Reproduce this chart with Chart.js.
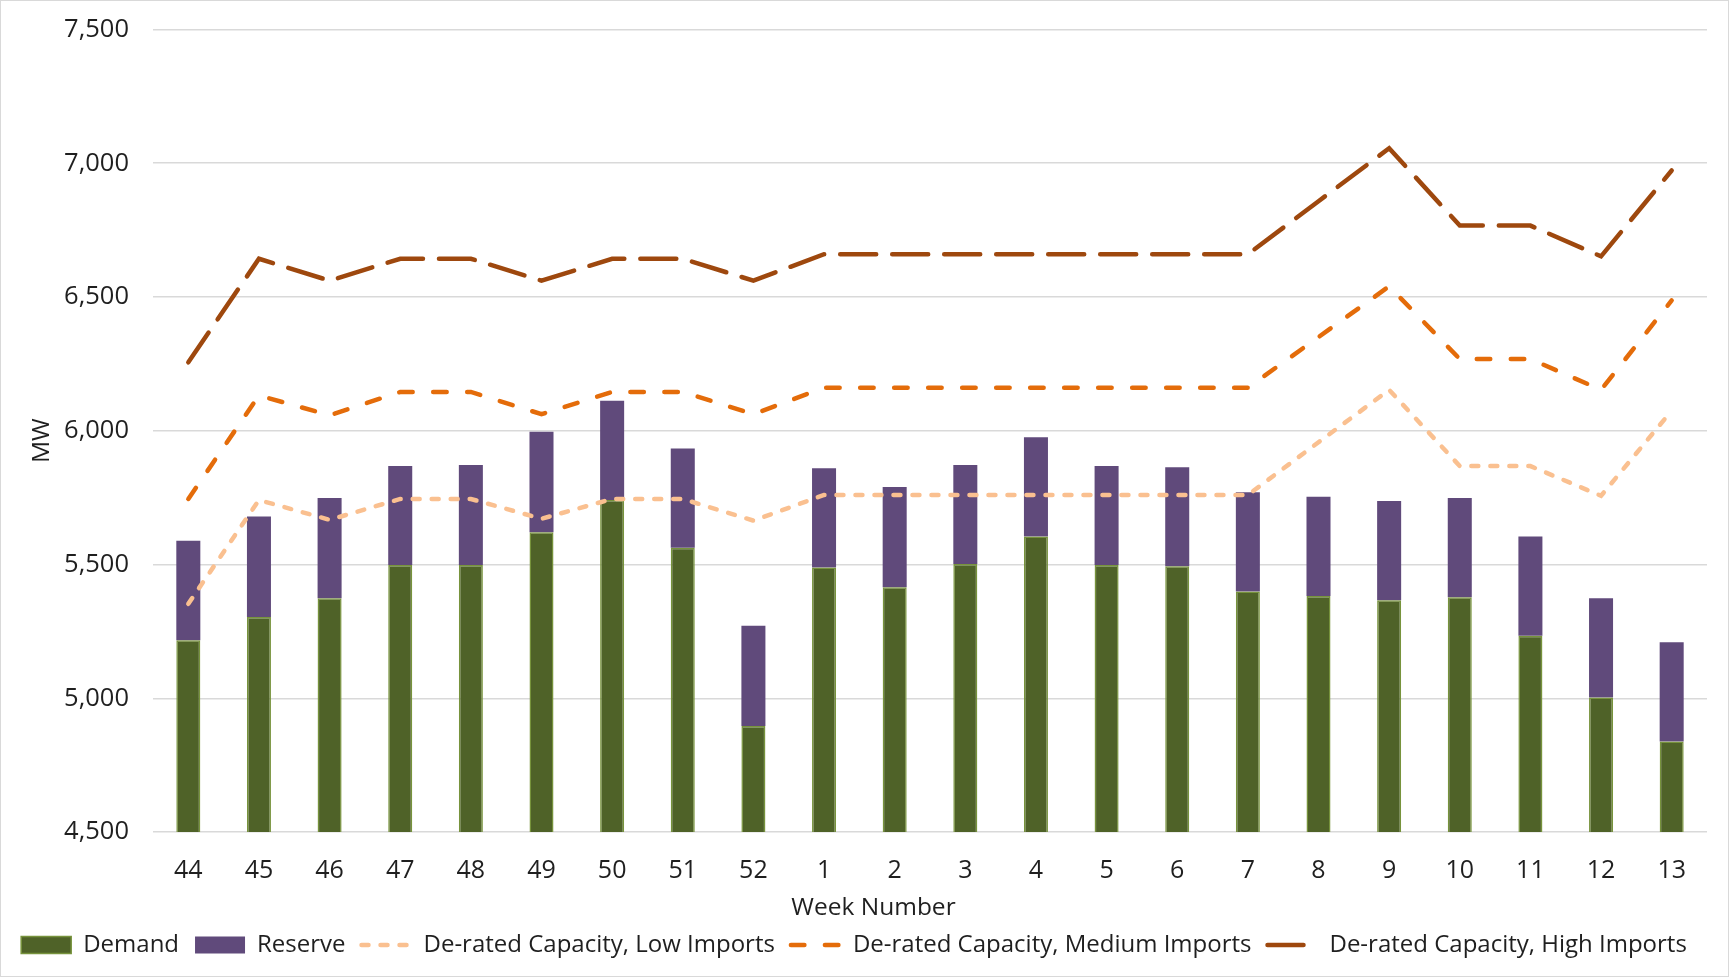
<!DOCTYPE html>
<html>
<head>
<meta charset="utf-8">
<script src="https://cdn.jsdelivr.net/npm/chart.js@4.4.1/dist/chart.umd.min.js"></script>
<style>
  html, body { margin: 0; padding: 0; background: #fff; }
  #wrap { width: 1729px; height: 977px; box-sizing: border-box; border: 1px solid #d9d9d9; }
</style>
</head>
<body>
<div id="wrap"><canvas id="capacityChart"></canvas></div>
<script>
const weeks = ['44', '45', '46', '47', '48', '49', '50', '51', '52', '1', '2', '3', '4', '5', '6', '7', '8', '9', '10', '11', '12', '13'];

const demand = [5217, 5304, 5374, 5498, 5498, 5621, 5741, 5563, 4896, 5489, 5415, 5502, 5605, 5498, 5493, 5399, 5382, 5366, 5378, 5234, 5003, 4838];
const reserve = [372, 375, 375, 370, 374, 375, 371, 371, 375, 371, 375, 370, 371, 370, 371, 371, 371, 371, 371, 371, 371, 371];

const lowImports = [5353, 5741, 5667, 5745, 5745, 5671, 5745, 5745, 5664, 5760, 5760, 5760, 5760, 5760, 5760, 5760, 5957, 6153, 5868, 5868, 5757, 6075];
const mediumImports = [5745, 6132, 6058, 6145, 6145, 6062, 6145, 6145, 6062, 6161, 6161, 6161, 6161, 6161, 6161, 6161, 6350, 6540, 6268, 6268, 6153, 6487];
const highImports = [6256, 6643, 6561, 6643, 6643, 6561, 6643, 6643, 6561, 6660, 6660, 6660, 6660, 6660, 6660, 6660, 6858, 7056, 6767, 6767, 6652, 6973];

const yTicks = [4500, 5000, 5500, 6000, 6500, 7000, 7500];

const textColor = '#1f1f1f';
Chart.defaults.font.family = '"Open Sans", sans-serif';
Chart.defaults.font.size = 24;
Chart.defaults.color = textColor;

// axis titles are placed like the Excel original, slightly off the plot centre
const axisTitles = {
  id: 'axisTitles',
  afterDraw(chart) {
    const c = chart.ctx;
    const area = chart.chartArea;
    c.save();
    c.font = '24.5px "Open Sans", sans-serif';
    c.fillStyle = textColor;
    c.textAlign = 'center';
    c.textBaseline = 'middle';
    c.fillText('Week Number', chart.width / 2 + 9, area.bottom + 76);
    c.translate(41, (area.top + area.bottom) / 2 + 10);
    c.rotate(-Math.PI / 2);
    c.fillText('MW', 0, 0);
    c.restore();
  }
};

const ctx = document.getElementById('capacityChart').getContext('2d');
new Chart(ctx, {
  data: {
    labels: weeks,
    datasets: [
      {
        type: 'bar', label: 'Demand', data: demand, stack: 'bars', order: 2,
        backgroundColor: '#4f6228', borderColor: '#77933c', borderWidth: 1.5, borderSkipped: false,
        categoryPercentage: 1, barPercentage: 0.34
      },
      {
        type: 'bar', label: 'Reserve', data: reserve, stack: 'bars', order: 2,
        backgroundColor: '#604a7b', borderWidth: 0,
        categoryPercentage: 1, barPercentage: 0.34
      },
      {
        type: 'line', label: 'De-rated Capacity, Low Imports', data: lowImports, stack: 'low', order: 1,
        borderColor: '#fac090', borderWidth: 4.5, borderDash: [7, 12], borderCapStyle: 'round',
        pointRadius: 0, tension: 0, fill: false
      },
      {
        type: 'line', label: 'De-rated Capacity, Medium Imports', data: mediumImports, stack: 'medium', order: 1,
        borderColor: '#e46c0a', borderWidth: 4.5, borderDash: [13.5, 20.5], borderCapStyle: 'round',
        pointRadius: 0, tension: 0, fill: false
      },
      {
        type: 'line', label: 'De-rated Capacity, High Imports', data: highImports, stack: 'high', order: 1,
        borderColor: '#9e480e', borderWidth: 4.5, borderDash: [36, 16], borderCapStyle: 'round',
        pointRadius: 0, tension: 0, fill: false
      }
    ]
  },
  options: {
    responsive: true,
    maintainAspectRatio: false,
    animation: false,
    devicePixelRatio: 1,
    layout: { padding: { left: 0, top: 28.5, right: 21, bottom: 9 } },
    plugins: {
      tooltip: { enabled: false },
      legend: {
        position: 'bottom',
        labels: {
          usePointStyle: true,
          pointStyleWidth: 50,
          boxHeight: 17,
          padding: 16,
          font: { size: 24 },
          sort: (a, b) => a.datasetIndex - b.datasetIndex,
          generateLabels(chart) {
            const items = Chart.defaults.plugins.legend.labels.generateLabels(chart);
            items.forEach(item => {
              const ds = chart.data.datasets[item.datasetIndex];
              if (ds.type === 'line') {
                item.pointStyle = 'line';
                item.strokeStyle = ds.borderColor;
                item.lineWidth = ds.borderWidth;
                item.lineDash = ds.borderDash;
                item.lineCap = ds.borderCapStyle;
              } else {
                item.pointStyle = 'rect';
              }
            });
            return items;
          }
        }
      }
    },
    scales: {
      x: {
        stacked: true,
        grid: { display: false },
        border: { display: false },
        ticks: { padding: 16, font: { size: 25 } },
        afterFit(scale) { scale.height = 85; }
      },
      y: {
        stacked: true,
        min: yTicks[0],
        max: yTicks[yTicks.length - 1],
        grid: { color: '#d9d9d9', lineWidth: 1.5, drawTicks: true, tickLength: 24, tickColor: 'rgba(0,0,0,0)' },
        border: { display: false },
        ticks: { stepSize: 500, padding: 0, font: { size: 25.5 } },
        afterBuildTicks(scale) { scale.ticks = yTicks.map(v => ({ value: v })); },
        afterFit(scale) { scale.width = 152; }
      }
    }
  },
  plugins: [axisTitles]
});
</script>
</body>
</html>
